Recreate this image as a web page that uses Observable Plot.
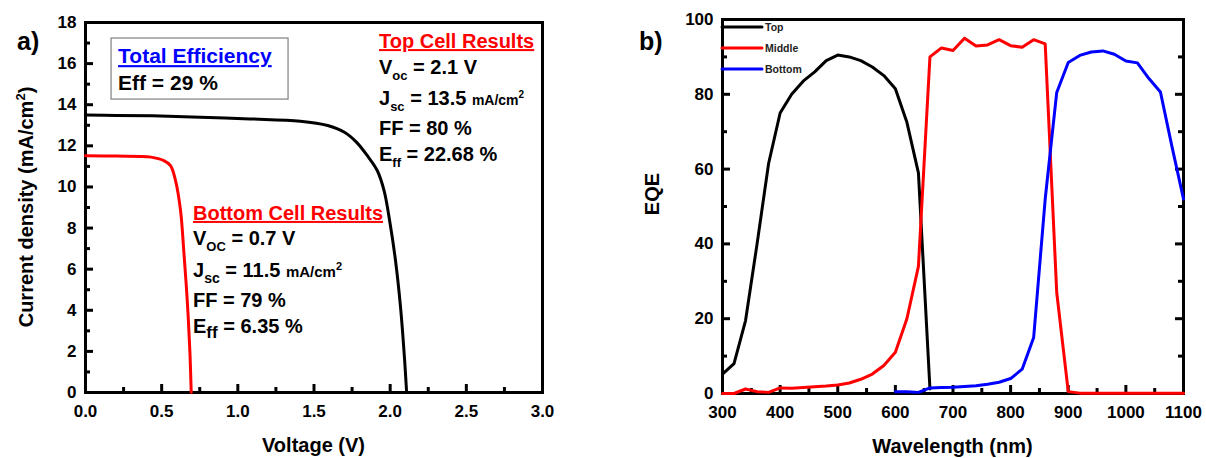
<!DOCTYPE html>
<html><head><meta charset="utf-8">
<script src="https://cdn.jsdelivr.net/npm/d3@7"></script>
<script src="https://cdn.jsdelivr.net/npm/@observablehq/plot@0.6"></script>
<style>
body{margin:0;background:#fff;}
#wrap{position:relative;width:1206px;height:458px;overflow:hidden;background:#fff;}
#wrap svg{position:absolute;top:0;}
text{white-space:pre;}
</style></head><body><div id="wrap"></div>
<script>
// ---------- Panel a) J-V data ----------
const topVoltage = [0, 0.2, 0.43, 0.7, 1.08, 1.41, 1.59, 1.7, 1.78, 1.85, 1.915, 1.96, 2.0, 2.035, 2.068, 2.095, 2.108];
const topCurrent = [13.5, 13.48, 13.46, 13.4, 13.31, 13.2, 12.99, 12.66, 12.17, 11.52, 10.8, 9.82, 8.2, 6.42, 4.15, 1.56, 0];
const bottomVoltage = [0, 0.2, 0.43, 0.514, 0.558, 0.591, 0.624, 0.645, 0.668, 0.685, 0.694];
const bottomCurrent = [11.52, 11.5, 11.45, 11.28, 11.04, 10.31, 8.85, 6.9, 4.47, 2.04, 0];
const voltageTicks = [0, 0.5, 1, 1.5, 2, 2.5, 3];
const voltageMinor = [0.25, 0.75, 1.25, 1.75, 2.25, 2.75];
const currentTicks = [0, 2, 4, 6, 8, 10, 12, 14, 16, 18];
const currentMinor = [1, 3, 5, 7, 9, 11, 13, 15, 17];

// ---------- Panel b) EQE data ----------
const topWavelength = [300,320,340,360,380,400,420,440,460,480,500,520,540,560,580,600,620,640,660];
const topEQE = [5.2, 8, 19.5, 40, 61.5, 75, 80, 83.5, 86, 89, 90.5, 90, 89, 87.3, 85, 81.5, 72.5, 59, 1.2];
const middleWavelength = [300,320,340,360,380,400,420,440,460,480,500,520,540,560,580,600,620,640,660,680,700,720,740,760,780,800,820,840,860,880,900,920,940,960,980,1000,1020,1040,1060,1080,1100];
const middleEQE = [0, 0, 1.2, 0.5, 0.3, 1.5, 1.4, 1.6, 1.8, 2.0, 2.3, 2.8, 3.8, 5.2, 7.5, 11, 20, 34, 90, 92.4, 91.7, 95, 92.9, 93.2, 94.6, 93, 92.6, 94.6, 93.5, 27, 0.5, 0.1, 0.1, 0.1, 0.1, 0.1, 0.1, 0.1, 0.1, 0.1, 0.1];
const bottomWavelength = [600,620,640,660,680,700,720,740,760,780,800,820,840,860,880,900,920,940,960,980,1000,1020,1040,1060,1080,1100];
const bottomEQE = [0.5, 0.5, 0.3, 1.5, 1.6, 1.7, 1.9, 2.1, 2.5, 3, 4, 6.5, 15, 52, 80.5, 88.5, 90.4, 91.3, 91.6, 90.7, 88.9, 88.4, 84.2, 80.6, 66, 52];
const wavelengthTicks = [300, 400, 500, 600, 700, 800, 900, 1000, 1100];
const wavelengthMinor = [350, 450, 550, 650, 750, 850, 950, 1050];
const eqeTicks = [0, 20, 40, 60, 80, 100];
const eqeMinor = [10, 30, 50, 70, 90];
const seriesNames = ["Top", "Middle", "Bottom"];
const seriesColors = ["#000000", "#ff0000", "#0000ff"];

const FONT = "'Liberation Sans', Arial, Helvetica, sans-serif";
const zip = (xs, ys) => xs.map((x, i) => ({x, y: ys[i]}));
const interior = (arr, lo, hi) => arr.filter(d => d > lo && d < hi);

function tickMarks(xMaj, xMin, yMaj, yMin, pw, ph, rightSide) {
  const MAJ = 8, MIN = 5, sw = 3;
  const m = [
    Plot.ruleX(xMaj, {x: d => d, insetTop: ph - MAJ, stroke: "black", strokeWidth: sw}),
    Plot.ruleX(xMin, {x: d => d, insetTop: ph - MIN, stroke: "black", strokeWidth: sw}),
    Plot.ruleY(yMaj, {y: d => d, insetRight: pw - MAJ, stroke: "black", strokeWidth: sw}),
    Plot.ruleY(yMin, {y: d => d, insetRight: pw - MIN, stroke: "black", strokeWidth: sw})
  ];
  if (rightSide) {
    m.push(Plot.ruleY(yMaj, {y: d => d, insetLeft: pw - MAJ, stroke: "black", strokeWidth: sw}));
    m.push(Plot.ruleY(yMin, {y: d => d, insetLeft: pw - MIN, stroke: "black", strokeWidth: sw}));
  }
  return m;
}

function rich(g, x, y, segs, size, fill, extra) {
  const t = g.append("text").attr("x", x).attr("y", y)
    .attr("font-size", size).attr("font-weight", "bold").attr("text-anchor", "start")
    .attr("font-family", FONT).attr("fill", fill || "black");
  if (extra) extra(t);
  let cur = 0;
  for (const s of segs) {
    const ts = t.append("tspan").text(s[0]);
    if (s[1]) ts.attr("font-size", s[1]);
    const shift = s[2] || 0;
    if (shift !== cur) ts.attr("dy", shift - cur);
    cur = shift;
  }
  return t;
}

const wrap = document.getElementById("wrap");

// ---------------- Left panel ----------------
const L = {w: 603, h: 458, ml: 85, mr: 61, mt: 22, mb: 66};
const lpw = L.w - L.ml - L.mr, lph = L.h - L.mt - L.mb;
const left = Plot.plot({
  width: L.w, height: L.h,
  marginLeft: L.ml, marginRight: L.mr, marginTop: L.mt, marginBottom: L.mb,
  style: {fontFamily: FONT, fontSize: "17px", fontWeight: "bold", color: "black", background: "transparent", overflow: "visible"},
  x: {domain: [0, 3]},
  y: {domain: [0, 18]},
  marks: [
    Plot.axisX(voltageTicks, {tickSize: 0, tickPadding: 12, tickFormat: d => d.toFixed(1), label: null}),
    Plot.axisY(currentTicks, {tickSize: 0, tickPadding: 9, tickFormat: d => String(d), label: null}),
    ...tickMarks(interior(voltageTicks, 0, 3), voltageMinor, interior(currentTicks, 0, 18), currentMinor, lpw, lph, false),
    Plot.frame({stroke: "black", strokeWidth: 3}),
    Plot.line(zip(topVoltage, topCurrent), {x: "x", y: "y", stroke: "black", strokeWidth: 3, curve: "catmull-rom"}),
    Plot.line(zip(bottomVoltage, bottomCurrent), {x: "x", y: "y", stroke: "#ff0000", strokeWidth: 3, curve: "catmull-rom"})
  ]
});
left.style.left = "0px";
wrap.appendChild(left);
{
  const sx = left.scale("x"), sy = left.scale("y");
  const g = d3.select(left).append("g");
  const X = v => sx.apply(v), Y = v => sy.apply(v);
  rich(g, 17, 50, [["a)"]], 25);
  rich(g, (L.ml + L.w - L.mr) / 2, 452, [["Voltage (V)"]], 20, "black", t => t.attr("text-anchor", "middle"));
  rich(g, 0, 0, [["Current density (mA/cm"], ["2", 13, -8], [")", null, 0]], 20, "black",
    t => t.attr("text-anchor", "middle").attr("transform", `translate(33,${(L.mt + L.h - L.mb) / 2}) rotate(-90)`));
  // total efficiency box
  g.append("rect").attr("x", X(0.171)).attr("y", Y(17.22)).attr("width", X(1.333) - X(0.171)).attr("height", Y(14.25) - Y(17.22))
    .attr("fill", "white").attr("stroke", "#808080").attr("stroke-width", 1.2);
  rich(g, X(0.217), Y(16.0), [["Total Efficiency"]], 21, "#0000ff", t => t.attr("text-decoration", "underline"));
  rich(g, X(0.217), Y(14.69), [["Eff = 29 %"]], 21, "black");
  // top cell results
  const tx = X(1.93);
  rich(g, tx, Y(16.73), [["Top Cell Results"]], 20, "#ff0000", t => t.attr("text-decoration", "underline"));
  rich(g, tx, Y(15.47), [["V"], ["oc", 13, 6], [" = 2.1 V", null, 0]], 20);
  rich(g, tx, Y(13.96), [["J"], ["sc", 13, 6], [" = 13.5 ", null, 0], ["mA/cm", 14, 0], ["2", 10, -7]], 20);
  rich(g, tx, Y(12.5), [["FF = 80 %"]], 20);
  rich(g, tx, Y(11.24), [["E"], ["ff", 13, 6], [" = 22.68 %", null, 0]], 20);
  // bottom cell results
  const bx = X(0.709);
  rich(g, bx, Y(8.37), [["Bottom Cell Results"]], 20, "#ff0000", t => t.attr("text-decoration", "underline"));
  rich(g, bx, Y(7.15), [["V"], ["OC", 13, 6], [" = 0.7 V", null, 0]], 20);
  rich(g, bx, Y(5.59), [["J"], ["sc", 14, 6], [" = 11.5 ", null, 0], ["mA/cm", 15, 0], ["2", 11, -7]], 20);
  rich(g, bx, Y(4.13), [["FF = 79 %"]], 20);
  rich(g, bx, Y(2.87), [["E"], ["ff", 17, 5], [" = 6.35 %", null, 0]], 20);
}

// ---------------- Right panel ----------------
const R = {w: 603, h: 458, ml: 119, mr: 23, mt: 19, mb: 65};
const rpw = R.w - R.ml - R.mr, rph = R.h - R.mt - R.mb;
const seriesData = [zip(topWavelength, topEQE), zip(middleWavelength, middleEQE), zip(bottomWavelength, bottomEQE)];
const right = Plot.plot({
  width: R.w, height: R.h,
  marginLeft: R.ml, marginRight: R.mr, marginTop: R.mt, marginBottom: R.mb,
  style: {fontFamily: FONT, fontSize: "17px", fontWeight: "bold", color: "black", background: "transparent", overflow: "visible"},
  x: {domain: [300, 1100]},
  y: {domain: [0, 100]},
  marks: [
    Plot.axisX(wavelengthTicks, {tickSize: 0, tickPadding: 12, tickFormat: d => String(d), label: null}),
    Plot.axisY(eqeTicks, {tickSize: 0, tickPadding: 9, tickFormat: d => String(d), label: null}),
    ...tickMarks(interior(wavelengthTicks, 300, 1100), wavelengthMinor, interior(eqeTicks, 0, 100), eqeMinor, rpw, rph, true),
    Plot.frame({stroke: "black", strokeWidth: 3}),
    ...seriesData.map((d, i) => Plot.line(d, {x: "x", y: "y", stroke: seriesColors[i], strokeWidth: 3}))
  ]
});
right.style.left = "603px";
wrap.appendChild(right);
{
  const g = d3.select(right).append("g");
  rich(g, 639 - 603, 50, [["b)"]], 25);
  rich(g, (R.ml + R.w - R.mr) / 2, 453, [["Wavelength (nm)"]], 20, "black", t => t.attr("text-anchor", "middle"));
  rich(g, 0, 0, [["EQE"]], 20, "black", t => t.attr("text-anchor", "middle").attr("transform", `translate(${659 - 603},194) rotate(-90)`));
  // legend
  const x0 = R.ml, legY = [R.mt + 8, R.mt + 29, R.mt + 50];
  seriesNames.forEach((name, i) => {
    g.append("line").attr("x1", x0).attr("x2", x0 + 40).attr("y1", legY[i]).attr("y2", legY[i])
      .attr("stroke", seriesColors[i]).attr("stroke-width", 3).attr("stroke-linecap", "round");
    rich(g, x0 + 43, legY[i] + 4, [[name]], 10.5, "#222");
  });
}
</script></body></html>
